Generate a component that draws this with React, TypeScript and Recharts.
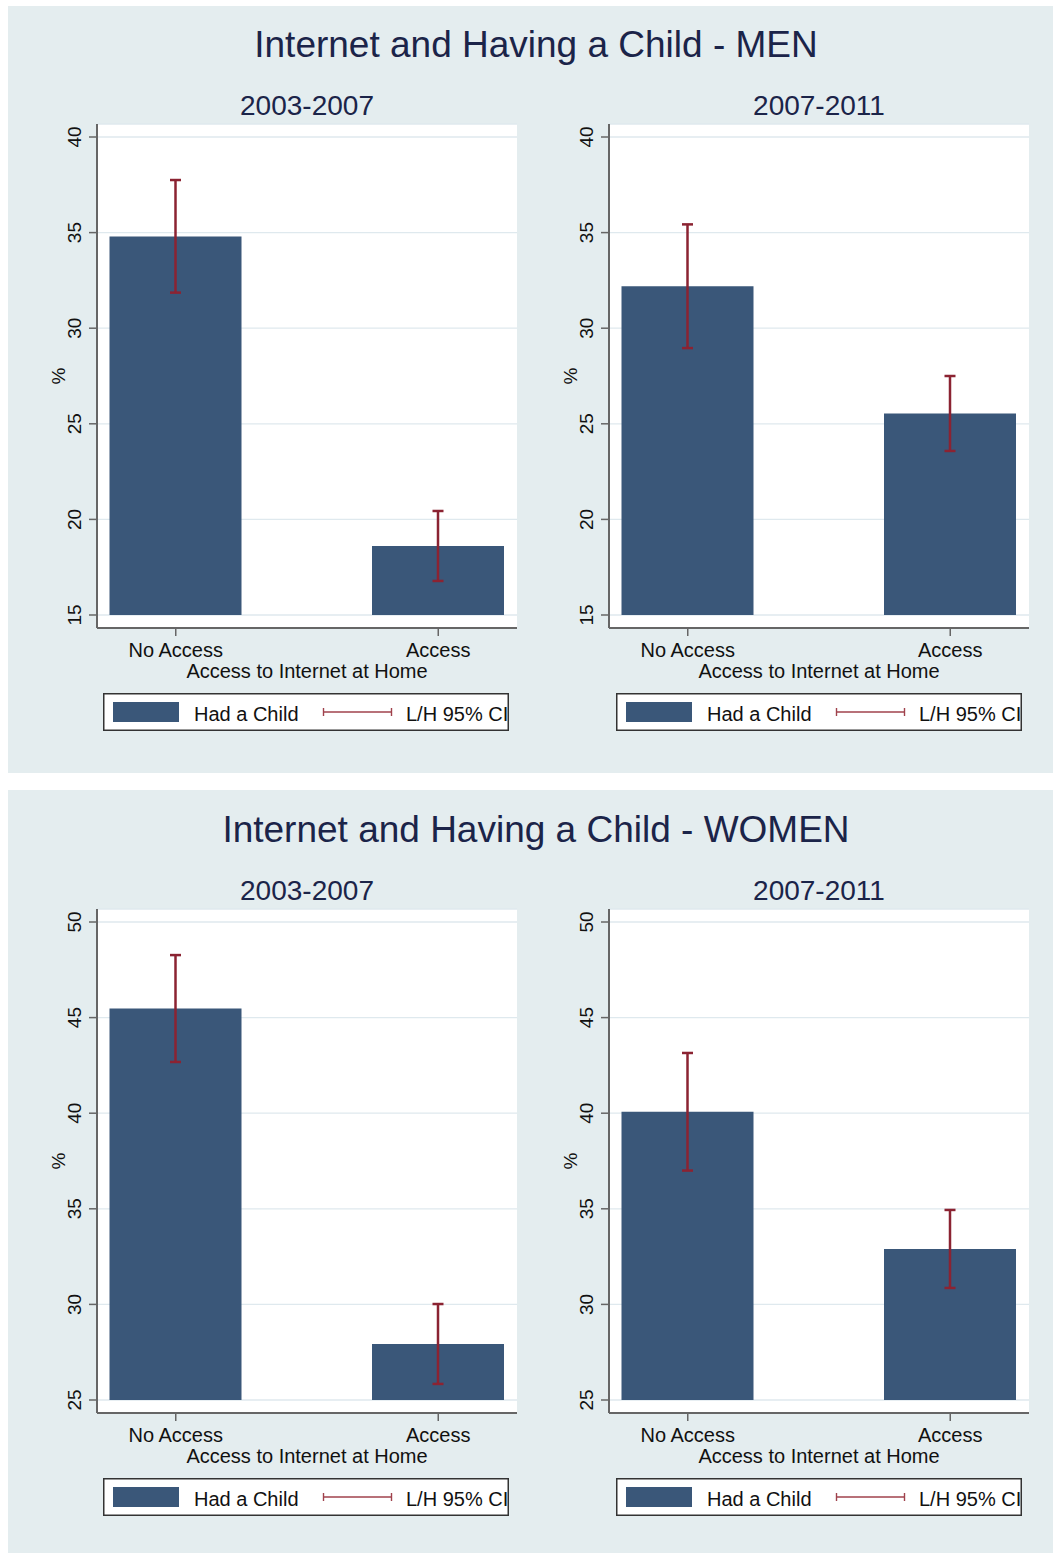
import React from 'react';
import { BarChart, Bar, XAxis, YAxis, CartesianGrid, ErrorBar, Legend, Label } from 'recharts';

const FONT = '"Liberation Sans", Arial, Helvetica, sans-serif';

// ---- data ----
const categories = ['No Access', 'Access'];
const xTickPositions = [0, 1];

const menEarlyValues = [34.8, 18.61];
const menEarlyLow = [31.86, 16.78];
const menEarlyHigh = [37.75, 20.44];

const menLateValues = [32.2, 25.54];
const menLateLow = [28.96, 23.58];
const menLateHigh = [35.43, 27.5];

const womenEarlyValues = [45.47, 27.93];
const womenEarlyLow = [42.68, 25.84];
const womenEarlyHigh = [48.27, 30.02];

const womenLateValues = [40.08, 32.9];
const womenLateLow = [37.0, 30.86];
const womenLateHigh = [43.15, 34.94];

const menTicks = [15, 20, 25, 30, 35, 40];
const womenTicks = [25, 30, 35, 40, 45, 50];

const periodLabels = ['2003-2007', '2007-2011'];
const menTitle = 'Internet and Having a Child - MEN';
const womenTitle = 'Internet and Having a Child - WOMEN';
const xAxisTitle = 'Access to Internet at Home';
const yAxisTitle = '%';
const barSeriesName = 'Had a Child';
const ciSeriesName = 'L/H 95% CI';

// ---- style ----
const PANEL_BG = '#e4edef';
const TITLE_COLOR = '#1b2449';
const BAR_COLOR = '#3a5779';
const CI_COLOR = '#8b2332';
const AXIS_COLOR = '#666666';
const GRID_COLOR = '#dfe9ee';
const TEXT_COLOR = '#111111';

function buildRows(values: number[], low: number[], high: number[], base: number) {
  return categories.map((name, i) => ({
    pos: xTickPositions[i],
    name,
    bar: [base, values[i]],
    ci: [values[i] - low[i], high[i] - values[i]],
  }));
}

const YTick = (props: any) => {
  const { x, y, payload } = props;
  return (
    <text
      transform={`translate(${x - 6},${y}) rotate(-90)`}
      textAnchor="middle"
      fontSize={19}
      fill={TEXT_COLOR}
      fontFamily={FONT}
    >
      {payload.value}
    </text>
  );
};

const PctLabel = (props: any) => {
  const vb = props.viewBox || { x: 27, y: 9, width: 40, height: 504 };
  const cx = vb.x + 8;
  const cy = vb.y + vb.height / 2;
  return (
    <text
      transform={`translate(${cx},${cy}) rotate(-90)`}
      textAnchor="middle"
      fontSize={19}
      fill={TEXT_COLOR}
      fontFamily={FONT}
    >
      {yAxisTitle}
    </text>
  );
};

const LegendBox = () => (
  <svg width={406} height={38} style={{ display: 'block' }}>
    <rect x={0.75} y={0.75} width={404.5} height={36.5} fill="#ffffff" stroke="#333333" strokeWidth={1.5} />
    <rect x={10} y={9} width={66} height={20} fill={BAR_COLOR} />
    <text x={91} y={28} fontSize={20} fill={TEXT_COLOR} fontFamily={FONT}>
      {barSeriesName}
    </text>
    <line x1={220} y1={19} x2={289} y2={19} stroke="#a0424c" strokeWidth={1.6} />
    <line x1={220.5} y1={15} x2={220.5} y2={23} stroke="#a0424c" strokeWidth={1.4} />
    <line x1={288.5} y1={15} x2={288.5} y2={23} stroke="#a0424c" strokeWidth={1.4} />
    <text x={303} y={28} fontSize={20} fill={TEXT_COLOR} fontFamily={FONT}>
      {ciSeriesName}
    </text>
  </svg>
);

type SubProps = {
  left: number;
  top: number;
  values: number[];
  low: number[];
  high: number[];
  ticks: number[];
  legendLeft: number;
};

function SubChart({ left, top, values, low, high, ticks, legendLeft }: SubProps) {
  const base = ticks[0];
  const rows = buildRows(values, low, high, base);
  const span = ticks[ticks.length - 1] - ticks[0];
  const pad = span * 0.0272;
  const domain: [number, number] = [ticks[0] - pad, ticks[ticks.length - 1] + pad];
  return (
    <div style={{ position: 'absolute', left, top }}>
      <BarChart
        width={500}
        height={630}
        data={rows}
        margin={{ top: 9, right: 13, bottom: 14, left: 27 }}
      >
        <CartesianGrid vertical={false} fill="#ffffff" stroke={GRID_COLOR} strokeWidth={1.3} />
        <XAxis
          type="number"
          dataKey="pos"
          domain={[-0.3, 1.3]}
          ticks={xTickPositions}
          interval={0}
          allowDataOverflow
          tickFormatter={(v: number) => categories[v] ?? ''}
          height={65}
          tickSize={8}
          tickMargin={7}
          axisLine={{ stroke: AXIS_COLOR, strokeWidth: 2 }}
          tickLine={{ stroke: AXIS_COLOR, strokeWidth: 1.5 }}
          tick={{ fontSize: 20, fill: TEXT_COLOR, fontFamily: FONT }}
          label={{
            value: xAxisTitle,
            position: 'insideBottom',
            offset: 15,
            fontSize: 20,
            fill: TEXT_COLOR,
            fontFamily: FONT,
          }}
        />
        <YAxis
          type="number"
          domain={domain}
          ticks={ticks}
          interval={0}
          allowDataOverflow
          width={40}
          tickSize={8}
          tickMargin={2}
          axisLine={{ stroke: AXIS_COLOR, strokeWidth: 2 }}
          tickLine={{ stroke: AXIS_COLOR, strokeWidth: 1.5 }}
          tick={<YTick />}
        >
          <Label content={PctLabel} />
        </YAxis>
        <Legend
          verticalAlign="bottom"
          align="left"
          content={() => <LegendBox />}
          wrapperStyle={{ left: legendLeft, width: 406, height: 38 }}
        />
        <Bar dataKey="bar" name={barSeriesName} fill={BAR_COLOR} barSize={132} isAnimationActive={false}>
          <ErrorBar
            dataKey="ci"
            direction="y"
            width={5.5}
            stroke={CI_COLOR}
            strokeWidth={2.5}
            isAnimationActive={false}
          />
        </Bar>
      </BarChart>
    </div>
  );
}

export default function App() {
  return (
    <div
      style={{
        position: 'absolute',
        left: 0,
        top: 0,
        width: 1053,
        height: 1553,
        background: '#ffffff',
        overflow: 'hidden',
        fontFamily: FONT,
      }}
    >
      <svg width={1053} height={1553} style={{ position: 'absolute', left: 0, top: 0 }}>
        <rect x={8} y={6} width={1045} height={767} fill={PANEL_BG} />
        <rect x={8} y={790} width={1045} height={763} fill={PANEL_BG} />
        <text x={536} y={57} textAnchor="middle" fontSize={37} fill={TITLE_COLOR} fontFamily={FONT}>
          {menTitle}
        </text>
        <text x={307} y={115} textAnchor="middle" fontSize={28} fill={TITLE_COLOR} fontFamily={FONT}>
          {periodLabels[0]}
        </text>
        <text x={819} y={115} textAnchor="middle" fontSize={28} fill={TITLE_COLOR} fontFamily={FONT}>
          {periodLabels[1]}
        </text>
        <text x={536} y={842} textAnchor="middle" fontSize={37} fill={TITLE_COLOR} fontFamily={FONT}>
          {womenTitle}
        </text>
        <text x={307} y={900} textAnchor="middle" fontSize={28} fill={TITLE_COLOR} fontFamily={FONT}>
          {periodLabels[0]}
        </text>
        <text x={819} y={900} textAnchor="middle" fontSize={28} fill={TITLE_COLOR} fontFamily={FONT}>
          {periodLabels[1]}
        </text>
      </svg>
      <SubChart left={30} top={115} values={menEarlyValues} low={menEarlyLow} high={menEarlyHigh} ticks={menTicks} legendLeft={73} />
      <SubChart left={542} top={115} values={menLateValues} low={menLateLow} high={menLateHigh} ticks={menTicks} legendLeft={74} />
      <SubChart left={30} top={900} values={womenEarlyValues} low={womenEarlyLow} high={womenEarlyHigh} ticks={womenTicks} legendLeft={73} />
      <SubChart left={542} top={900} values={womenLateValues} low={womenLateLow} high={womenLateHigh} ticks={womenTicks} legendLeft={74} />
    </div>
  );
}
